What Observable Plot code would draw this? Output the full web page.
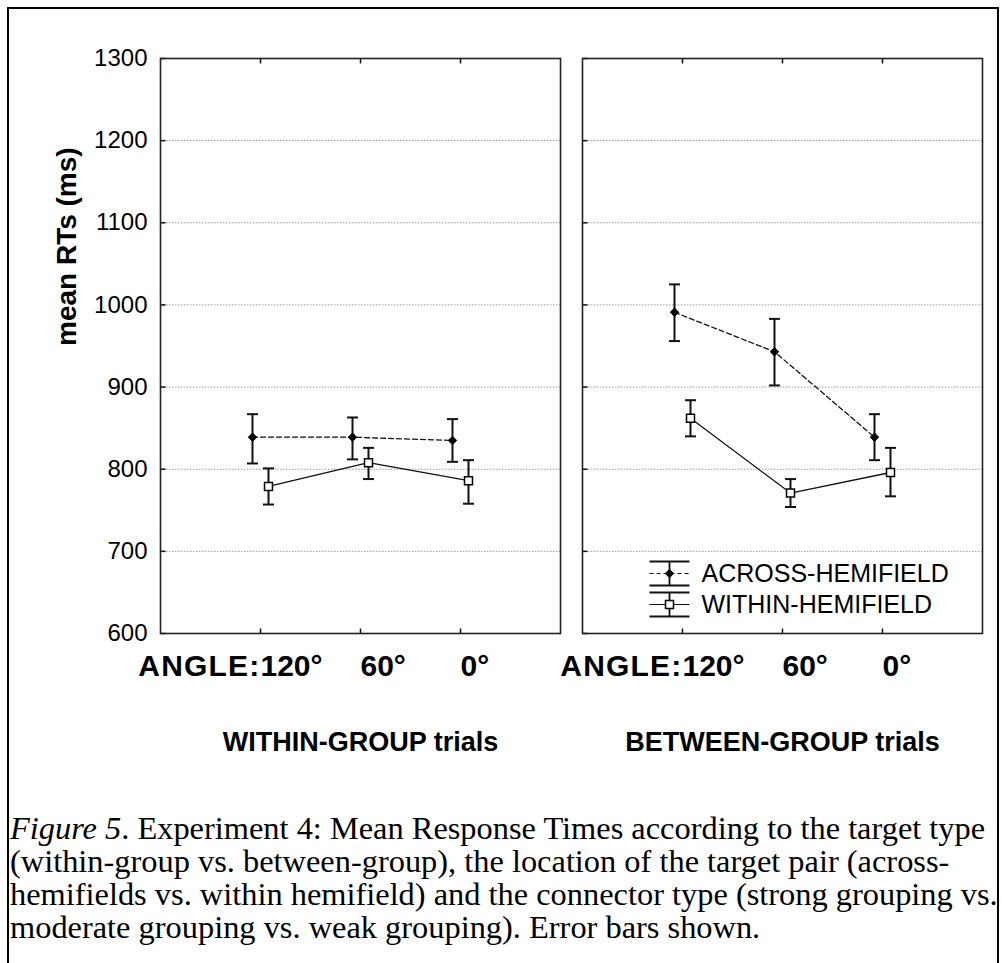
<!DOCTYPE html>
<html><head><meta charset="utf-8">
<script src="https://cdn.jsdelivr.net/npm/d3@7"></script>
<script src="https://cdn.jsdelivr.net/npm/@observablehq/plot@0.6"></script>
<style>
html,body{margin:0;padding:0;background:#fff;width:1002px;height:963px;overflow:hidden;}
#border{position:absolute;left:7px;top:7px;width:992px;height:1000px;border:2px solid #000;box-sizing:border-box;}
#chart{position:absolute;left:0;top:0;}
#caption{position:absolute;left:10px;top:812px;font-family:"Liberation Serif","Times New Roman",serif;font-size:32.4px;line-height:33px;white-space:nowrap;color:#000;}
</style></head><body>
<div id="border"></div>
<div id="chart"></div>
<div id="caption"><i>Figure 5</i>. Experiment 4: Mean Response Times according to the target type<br>(within-group vs. between-group), the location of the target pair (across-<br>hemifields vs. within hemifield) and the connector type (strong grouping vs.<br>moderate grouping vs. weak grouping). Error bars shown.</div>
<script>
const panels = ["WITHIN-GROUP trials", "BETWEEN-GROUP trials"];
const angles = ["120°", "60°", "0°"];
const seriesNames = ["ACROSS-HEMIFIELD", "WITHIN-HEMIFIELD"];
const yTicks = [600, 700, 800, 900, 1000, 1100, 1200, 1300];

const withinGroupAcrossMean = [839, 839, 835];
const withinGroupAcrossHi   = [867, 863, 861];
const withinGroupAcrossLo   = [807, 812, 809];
const withinGroupWithinMean = [779, 808, 786];
const withinGroupWithinHi   = [801, 826, 811];
const withinGroupWithinLo   = [757, 788, 758];

const betweenGroupAcrossMean = [991, 943, 839];
const betweenGroupAcrossHi   = [1025, 983, 867];
const betweenGroupAcrossLo   = [956, 902, 811];
const betweenGroupWithinMean = [862, 771, 796];
const betweenGroupWithinHi   = [884, 788, 826];
const betweenGroupWithinLo   = [840, 754, 767];

const rows = [];
function add(panel, series, mean, lo, hi) {
  angles.forEach((a, i) => rows.push({panel, series, angle: a, mean: mean[i], lo: lo[i], hi: hi[i]}));
}
add(panels[0], seriesNames[0], withinGroupAcrossMean, withinGroupAcrossLo, withinGroupAcrossHi);
add(panels[0], seriesNames[1], withinGroupWithinMean, withinGroupWithinLo, withinGroupWithinHi);
add(panels[1], seriesNames[0], betweenGroupAcrossMean, betweenGroupAcrossLo, betweenGroupAcrossHi);
add(panels[1], seriesNames[1], betweenGroupWithinMean, betweenGroupWithinLo, betweenGroupWithinHi);
const across = rows.filter(d => d.series === seriesNames[0]);
const within = rows.filter(d => d.series === seriesNames[1]);

const segs = (list) => ({draw(c) { for (const [x1, y1, x2, y2] of list) { c.moveTo(x1, y1); c.lineTo(x2, y2); } }});
const ink = "#111";
const legendData = [panels[1]];

function seriesMarks(data, dx, dash, markerOpts) {
  return [
    Plot.line(data, {fx: "panel", x: "angle", y: "mean", dx, stroke: ink, strokeWidth: 1.3, strokeDasharray: dash}),
    Plot.ruleX(data, {fx: "panel", x: "angle", y1: "lo", y2: "hi", dx, stroke: ink, strokeWidth: 2}),
    Plot.dot(data, {fx: "panel", x: "angle", y: "hi", dx, symbol: segs([[-5.5, 0, 5.5, 0]]), fill: "none", stroke: ink, strokeWidth: 2}),
    Plot.dot(data, {fx: "panel", x: "angle", y: "lo", dx, symbol: segs([[-5.5, 0, 5.5, 0]]), fill: "none", stroke: ink, strokeWidth: 2}),
    Plot.dot(data, {fx: "panel", x: "angle", y: "mean", dx, ...markerOpts})
  ];
}
const acrossMarker = {symbol: "diamond2", r: 3.8, fill: "#000", stroke: "#000", strokeWidth: 1};
const withinMarker = {symbol: "square", r: 4.5, fill: "#fff", stroke: "#000", strokeWidth: 1.5};

function legendRow(dy, dash, markerOpts, label) {
  return [
    Plot.dot(legendData, {fx: d => d, frameAnchor: "bottom-left", dx: 87, dy, symbol: segs([[-20, -12, 20, -12], [-20, 12, 20, 12], [0, -12, 0, 12]]), fill: "none", stroke: ink, strokeWidth: 1.8}),
    Plot.dot(legendData, {fx: d => d, frameAnchor: "bottom-left", dx: 87, dy, symbol: segs([[-20, 0, 20, 0]]), fill: "none", stroke: ink, strokeWidth: 1.2, strokeDasharray: dash}),
    Plot.dot(legendData, {fx: d => d, frameAnchor: "bottom-left", dx: 87, dy, ...markerOpts}),
    Plot.text(legendData, {fx: d => d, frameAnchor: "bottom-left", dx: 119, dy, text: () => label, textAnchor: "start", lineAnchor: "middle", fontSize: 25, fill: "#000"})
  ];
}

const chart = Plot.plot({
  width: 1002, height: 780,
  marginLeft: 160, marginRight: 20, marginTop: 58, marginBottom: 147,
  style: {fontFamily: "'Liberation Sans', Arial, sans-serif", color: "#000", background: "transparent", overflow: "visible"},
  fx: {domain: panels, paddingInner: 0.0521, paddingOuter: 0, round: false},
  x: {domain: angles, type: "point", padding: 1},
  y: {domain: [600, 1300]},
  marks: [
    Plot.gridY(yTicks.slice(1, -1), {stroke: "#999", strokeOpacity: 1, strokeWidth: 1, strokeDasharray: "1.5,1.5"}),
    Plot.dot(yTicks, {y: d => d, frameAnchor: "left", symbol: segs([[0, 0, 5, 0]]), fill: "none", stroke: ink, strokeWidth: 1.5}),
    Plot.dot(angles, {x: d => d, frameAnchor: "top", symbol: segs([[0, 0, 0, 5]]), fill: "none", stroke: ink, strokeWidth: 1.5}),
    Plot.dot(angles, {x: d => d, frameAnchor: "bottom", symbol: segs([[0, -5, 0, 0]]), fill: "none", stroke: ink, strokeWidth: 1.5}),
    ...seriesMarks(across, -8, "5,3", acrossMarker),
    ...seriesMarks(within, 8, null, withinMarker),
    ...legendRow(-60, "4,3", acrossMarker, seriesNames[0]),
    ...legendRow(-29, null, withinMarker, seriesNames[1]),
    Plot.frame({stroke: "#222", strokeWidth: 1.6}),
    Plot.axisY({ticks: yTicks, tickFormat: d3.format("d"), tickSize: 0, tickPadding: 13, fontSize: 24, label: null}),
    Plot.text([panels[0]], {fx: d => d, frameAnchor: "left", dx: -93, rotate: -90, text: () => "mean RTs (ms)", fontSize: 28, fontWeight: "bold", fill: "#000"}),
    Plot.axisX({anchor: "bottom", tickSize: 0, tickPadding: 21, textAnchor: "start", fontSize: 30, fontWeight: "bold", label: null}),
    Plot.text(panels, {fx: d => d, x: () => angles[0], frameAnchor: "bottom", text: () => "ANGLE:", textAnchor: "end", lineAnchor: "top", dy: 21, fontSize: 30, fontWeight: "bold", fill: "#000"}),
    Plot.axisFx({anchor: "bottom", tickSize: 0, tickPadding: 98, fontSize: 27, fontWeight: "bold", label: null})
  ]
});
d3.select(chart).selectAll("text").filter(function () { return this.textContent === "ANGLE:"; })
  .attr("letter-spacing", "1.2px");
document.getElementById("chart").appendChild(chart);
</script></body></html>
